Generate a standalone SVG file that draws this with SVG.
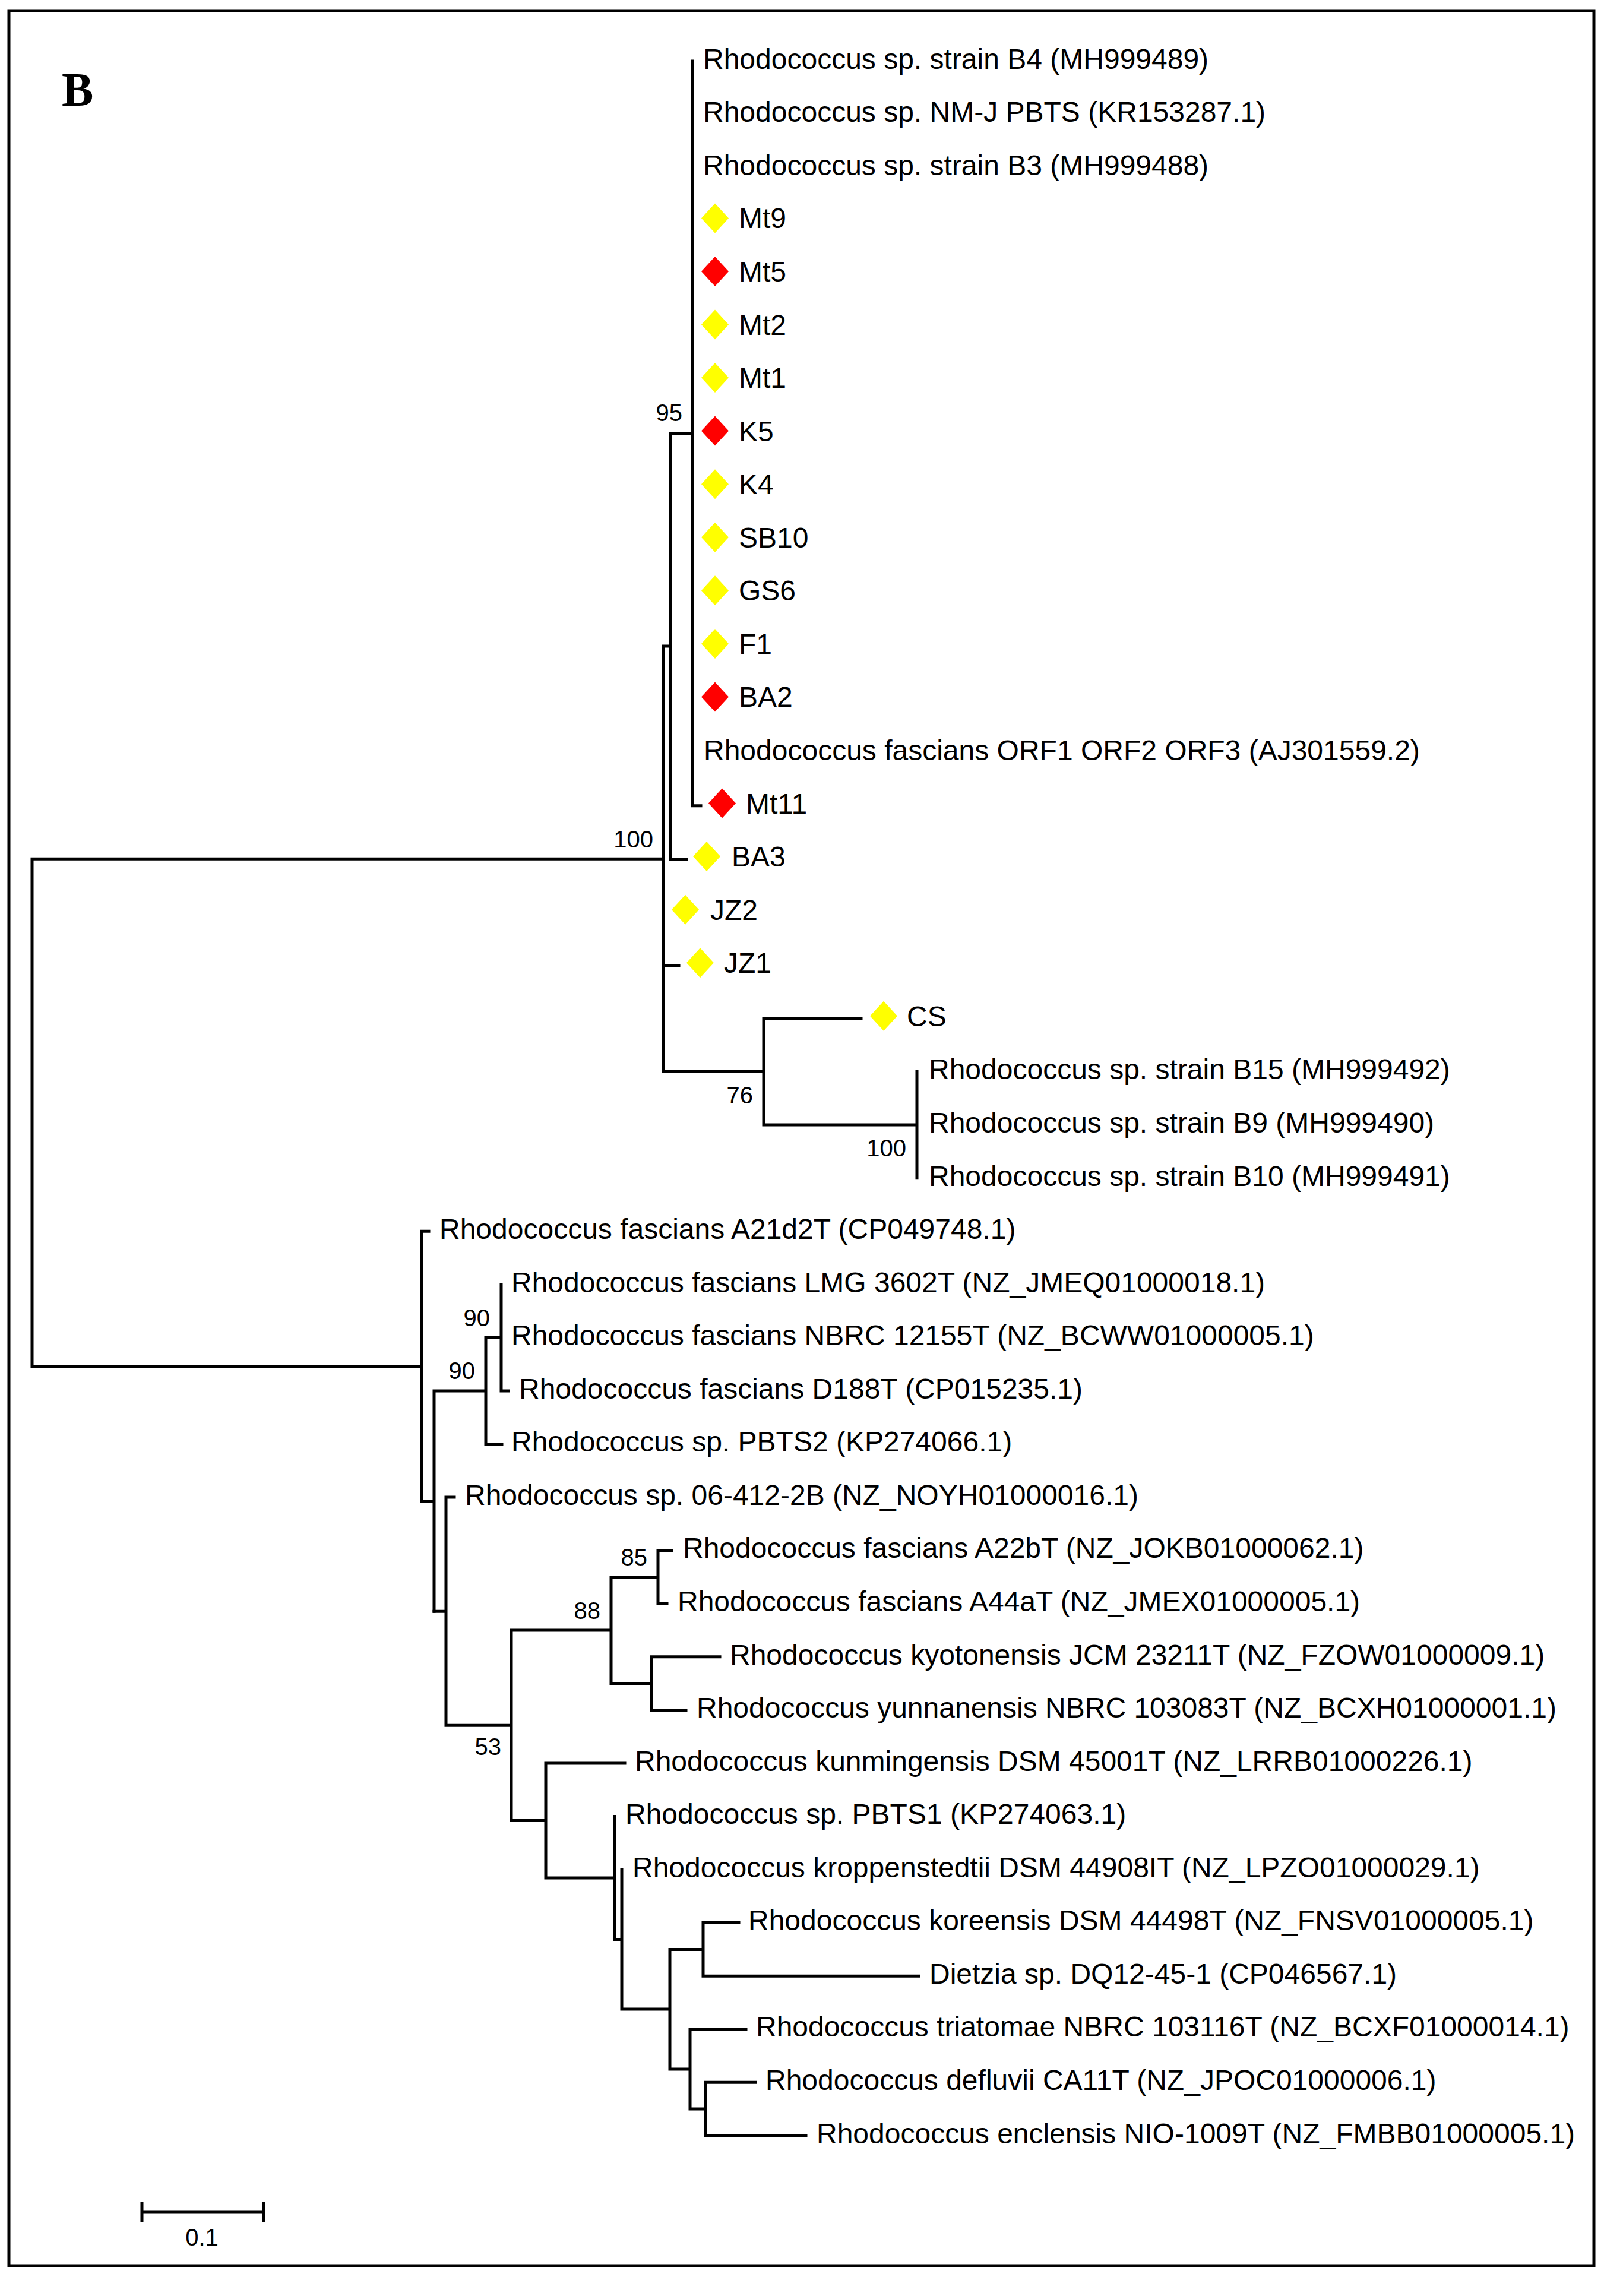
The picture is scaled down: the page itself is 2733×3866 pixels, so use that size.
<svg xmlns="http://www.w3.org/2000/svg" xmlns:xlink="http://www.w3.org/1999/xlink" width="2733" height="3866" viewBox="0 0 2733 3866">
<style>
.lf{font-family:"Liberation Sans",Arial,sans-serif;font-size:48px;fill:#000}
.bs{font-family:"Liberation Sans",Arial,sans-serif;font-size:40px;fill:#000;text-anchor:end}
.br{fill:none;stroke:#000;stroke-width:5;stroke-linecap:square}
.yl{fill:#FFFF00}
.rd{fill:#FF0000}
</style>
<defs>
<path id="dia" d="M0,-25 L23,0 L0,25 L-23,0 Z"/>
</defs>
<rect x="0" y="0" width="2733" height="3866" fill="#fff"/>
<rect id="frame" x="15" y="18" width="2669" height="3797" fill="none" stroke="#000" stroke-width="5"/>
<text id="panel" x="104" y="178" font-family="Liberation Serif,Times New Roman,serif" font-weight="bold" font-size="80">B</text>

<g id="connectors" class="br">
<path d="M1117,1446.3 H54 V2300.4 H710"/>
<path d="M1117,1088 V1804.5 M1117,1088 H1129 M1129,729.9 V1446.4 M1129,729.9 H1166 M1166,103 V1356.8 H1180 M1129,1446.4 H1156 M1117,1625.6 H1143"/>
<path d="M1117,1804.5 H1286 M1286,1715 V1894 M1286,1715 H1450 M1286,1894 H1544 M1544,1804.6 V1983.8"/>
<path d="M710,2073.3 V2527.6 M710,2073.3 H722 M710,2527.6 H731 M731,2342 V2713.2 M731,2342 H818 M818,2252.4 V2431.6 H845 M818,2252.4 H844 M844,2162.9 V2342 H856"/>
<path d="M731,2713.2 H751 M751,2521.1 V2905.2 M751,2521.1 H765 M751,2905.2 H861 M861,2745 V3065.5 M861,2745 H1029 M1029,2655.5 V2834.6 M1029,2655.5 H1108 M1108,2610.7 V2700.2 M1108,2610.7 H1131 M1108,2700.2 H1123 M1029,2834.6 H1097 M1097,2789.8 V2879.4 M1097,2789.8 H1212 M1097,2879.4 H1155"/>
<path d="M861,3065.5 H919 M919,2968.9 V3162 M919,2968.9 H1052 M919,3162 H1035 M1035,3058.5 V3265.6 H1047 M1047,3148 V3383.1 H1128 M1128,3282.4 V3483.9 M1128,3282.4 H1184 M1184,3237.6 V3327.2 M1184,3237.6 H1244 M1184,3327.2 H1547 M1128,3483.9 H1162 M1162,3416.7 V3551 M1162,3416.7 H1256 M1162,3551 H1188 M1188,3506.3 V3595.8 M1188,3506.3 H1272 M1188,3595.8 H1357"/>
</g>

<g id="bootstrap">
<text id="bs95" class="bs" x="1149" y="709">95</text>
<text id="bs100a" class="bs" x="1100" y="1427">100</text>
<text id="bs76" class="bs" x="1268" y="1858">76</text>
<text id="bs100b" class="bs" x="1526" y="1947">100</text>
<text id="bs90a" class="bs" x="825" y="2233">90</text>
<text id="bs90b" class="bs" x="800" y="2322">90</text>
<text id="bs85" class="bs" x="1090" y="2636">85</text>
<text id="bs88" class="bs" x="1011" y="2726">88</text>
<text id="bs53" class="bs" x="844" y="2955">53</text>
</g>

<g id="n-B4"><text class="lf" x="1184" y="115.7">Rhodococcus sp. strain B4 (MH999489)</text></g>
<g id="n-NMJ"><text class="lf" x="1184" y="205.3">Rhodococcus sp. NM-J PBTS (KR153287.1)</text></g>
<g id="n-B3"><text class="lf" x="1184" y="294.8">Rhodococcus sp. strain B3 (MH999488)</text></g>
<g id="n-Mt9"><use xlink:href="#dia" x="1204" y="367.4" class="yl"/><text class="lf" x="1244" y="384.4">Mt9</text></g>
<g id="n-Mt5"><use xlink:href="#dia" x="1204" y="456.9" class="rd"/><text class="lf" x="1244" y="473.9">Mt5</text></g>
<g id="n-Mt2"><use xlink:href="#dia" x="1204" y="546.5" class="yl"/><text class="lf" x="1244" y="563.5">Mt2</text></g>
<g id="n-Mt1"><use xlink:href="#dia" x="1204" y="636.1" class="yl"/><text class="lf" x="1244" y="653.1">Mt1</text></g>
<g id="n-K5"><use xlink:href="#dia" x="1204" y="725.6" class="rd"/><text class="lf" x="1244" y="742.6">K5</text></g>
<g id="n-K4"><use xlink:href="#dia" x="1204" y="815.2" class="yl"/><text class="lf" x="1244" y="832.2">K4</text></g>
<g id="n-SB10"><use xlink:href="#dia" x="1204" y="904.7" class="yl"/><text class="lf" x="1244" y="921.7">SB10</text></g>
<g id="n-GS6"><use xlink:href="#dia" x="1204" y="994.3" class="yl"/><text class="lf" x="1244" y="1011.3">GS6</text></g>
<g id="n-F1"><use xlink:href="#dia" x="1204" y="1083.9" class="yl"/><text class="lf" x="1244" y="1100.9">F1</text></g>
<g id="n-BA2"><use xlink:href="#dia" x="1204" y="1173.4" class="rd"/><text class="lf" x="1244" y="1190.4">BA2</text></g>
<g id="n-ORF"><text class="lf" x="1185" y="1280">Rhodococcus fascians ORF1 ORF2 ORF3 (AJ301559.2)</text></g>
<g id="n-Mt11"><use xlink:href="#dia" x="1216" y="1352.5" class="rd"/><text class="lf" x="1256" y="1369.5">Mt11</text></g>
<g id="n-BA3"><use xlink:href="#dia" x="1190" y="1442.1" class="yl"/><text class="lf" x="1232" y="1459.1">BA3</text></g>
<g id="n-JZ2"><use xlink:href="#dia" x="1154" y="1531.7" class="yl"/><text class="lf" x="1196" y="1548.7">JZ2</text></g>
<g id="n-JZ1"><use xlink:href="#dia" x="1179" y="1621.2" class="yl"/><text class="lf" x="1219" y="1638.2">JZ1</text></g>
<g id="n-CS"><use xlink:href="#dia" x="1488" y="1710.8" class="yl"/><text class="lf" x="1527" y="1727.8">CS</text></g>
<g id="n-B15"><text class="lf" x="1564" y="1817.3">Rhodococcus sp. strain B15 (MH999492)</text></g>
<g id="n-B9"><text class="lf" x="1564" y="1906.9">Rhodococcus sp. strain B9 (MH999490)</text></g>
<g id="n-B10"><text class="lf" x="1564" y="1996.5">Rhodococcus sp. strain B10 (MH999491)</text></g>
<g id="n-A21d2T"><text class="lf" x="740" y="2086">Rhodococcus fascians A21d2T (CP049748.1)</text></g>
<g id="n-LMG"><text class="lf" x="861" y="2175.6">Rhodococcus fascians LMG 3602T (NZ_JMEQ01000018.1)</text></g>
<g id="n-NBRC12155"><text class="lf" x="861" y="2265.1">Rhodococcus fascians NBRC 12155T (NZ_BCWW01000005.1)</text></g>
<g id="n-D188T"><text class="lf" x="874" y="2354.7">Rhodococcus fascians D188T (CP015235.1)</text></g>
<g id="n-PBTS2"><text class="lf" x="861" y="2444.3">Rhodococcus sp. PBTS2 (KP274066.1)</text></g>
<g id="n-06412"><text class="lf" x="783" y="2533.8">Rhodococcus sp. 06-412-2B (NZ_NOYH01000016.1)</text></g>
<g id="n-A22bT"><text class="lf" x="1150" y="2623.4">Rhodococcus fascians A22bT (NZ_JOKB01000062.1)</text></g>
<g id="n-A44aT"><text class="lf" x="1141" y="2712.9">Rhodococcus fascians A44aT (NZ_JMEX01000005.1)</text></g>
<g id="n-kyo"><text class="lf" x="1229" y="2802.5">Rhodococcus kyotonensis JCM 23211T (NZ_FZOW01000009.1)</text></g>
<g id="n-yun"><text class="lf" x="1173" y="2892.1">Rhodococcus yunnanensis NBRC 103083T (NZ_BCXH01000001.1)</text></g>
<g id="n-kun"><text class="lf" x="1069" y="2981.6">Rhodococcus kunmingensis DSM 45001T (NZ_LRRB01000226.1)</text></g>
<g id="n-PBTS1"><text class="lf" x="1053" y="3071.2">Rhodococcus sp. PBTS1 (KP274063.1)</text></g>
<g id="n-krop"><text class="lf" x="1065" y="3160.7">Rhodococcus kroppenstedtii DSM 44908IT (NZ_LPZO01000029.1)</text></g>
<g id="n-kor"><text class="lf" x="1260" y="3250.3">Rhodococcus koreensis DSM 44498T (NZ_FNSV01000005.1)</text></g>
<g id="n-Dietzia"><text class="lf" x="1565" y="3339.9">Dietzia sp. DQ12-45-1 (CP046567.1)</text></g>
<g id="n-tri"><text class="lf" x="1273" y="3429.4">Rhodococcus triatomae NBRC 103116T (NZ_BCXF01000014.1)</text></g>
<g id="n-def"><text class="lf" x="1289" y="3519">Rhodococcus defluvii CA11T (NZ_JPOC01000006.1)</text></g>
<g id="n-enc"><text class="lf" x="1375" y="3608.5">Rhodococcus enclensis NIO-1009T (NZ_FMBB01000005.1)</text></g>

<g id="scalebar">
<path class="br" style="stroke-linecap:butt" d="M239,3725 H444 M239,3708 V3742 M444,3708 V3742"/>
<text x="340" y="3781" font-family="Liberation Sans,Arial,sans-serif" font-size="40" text-anchor="middle">0.1</text>
</g>
</svg>
